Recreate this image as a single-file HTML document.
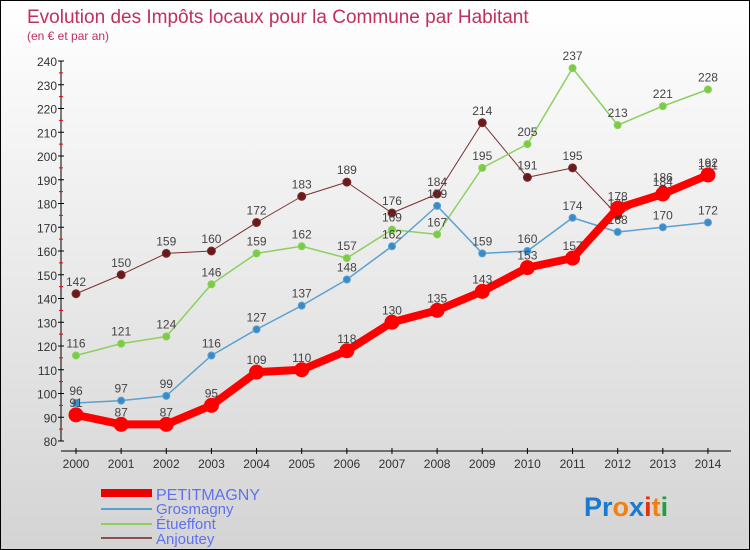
<!DOCTYPE html>
<html><head><meta charset="utf-8"><style>
body{margin:0}
#c{position:relative;width:748px;height:548px;border:1px solid #000;background:linear-gradient(#fff,#d4d4d4);overflow:hidden;font-family:"Liberation Sans",sans-serif}
</style></head><body>
<div id="c">
<svg id="s" width="748" height="548">
<text x="26" y="22" font-size="19" fill="#c0305a">Evolution des Impôts locaux pour la Commune par Habitant</text>
<text x="26" y="39" font-size="12" fill="#c0305a">(en € et par an)</text>
<g id="axes"></g><g id="series"></g>
<g>
<line x1="100" y1="492" x2="151" y2="492" stroke="#e00" stroke-width="8"/>
<text x="155" y="499" font-size="16" fill="#6070f0">PETITMAGNY</text>
<line x1="100" y1="508" x2="151" y2="508" stroke="#5aa0d0" stroke-width="2"/>
<text x="155" y="513" font-size="15" fill="#6070f0">Grosmagny</text>
<line x1="100" y1="523" x2="151" y2="523" stroke="#8cd060" stroke-width="2"/>
<text x="155" y="528" font-size="15" fill="#6070f0">Étueffont</text>
<line x1="100" y1="537" x2="151" y2="537" stroke="#8a5050" stroke-width="2"/>
<text x="155" y="543" font-size="15" fill="#6070f0">Anjoutey</text>
</g>
<text x="583" y="515" font-size="27" font-weight="bold"><tspan fill="#1a7ad0">Pr</tspan><tspan fill="#f08010">o</tspan><tspan fill="#1a7ad0">x</tspan><tspan fill="#e03010">i</tspan><tspan fill="#f08010">t</tspan><tspan fill="#20a040">i</tspan></text>
</svg></div>
<script>
const years=[2000,2001,2002,2003,2004,2005,2006,2007,2008,2009,2010,2011,2012,2013,2014];
const yTicks=[80,90,100,110,120,130,140,150,160,170,180,190,200,210,220,230,240];
const petitmagny=[91,87,87,95,109,110,118,130,135,143,153,157,178,184,192];
const grosmagny=[96,97,99,116,127,137,148,162,179,159,160,174,168,170,172];
const etueffont=[116,121,124,146,159,162,157,169,167,195,205,237,213,221,228];
const anjoutey=[142,150,159,160,172,183,189,176,184,214,191,195,175,186,191];
const NS="http://www.w3.org/2000/svg";
const X=i=>75+i*45.14, Y=v=>440-(v-80)*2.375;
function mk(t,a,p){const e=document.createElementNS(NS,t);for(const k in a)e.setAttribute(k,a[k]);p.appendChild(e);return e;}
const ax=document.getElementById('axes'), sg=document.getElementById('series');
let e=mk('line',{x1:60,y1:Y(240),x2:60,y2:440,stroke:'#000'},ax);


e=mk('line',{x1:60,y1:450,x2:730,y2:450,stroke:'#000'},ax);


yTicks.forEach((v,i)=>{
 mk('line',{x1:57,y1:Y(v),x2:63,y2:Y(v),stroke:'#000'},ax);
 if(i<yTicks.length-1)mk('line',{x1:58,y1:Y(v+5),x2:62,y2:Y(v+5),stroke:'#e00'},ax);
 const t=mk('text',{x:56,y:Y(v)+5,'font-size':12,fill:'#333','text-anchor':'end'},ax);t.textContent=v;
 
 
});
years.forEach((y,i)=>{
 mk('line',{x1:X(i),y1:447,x2:X(i),y2:453,stroke:'#000'},ax);
 const t=mk('text',{x:X(i),y:467,'font-size':12,fill:'#333','text-anchor':'middle'},ax);t.textContent=y;
 
 
});
function draw(d,name,col,dot,w,r){
 const p=mk('polyline',{points:d.map((v,i)=>X(i)+','+Y(v)).join(' '),fill:'none',stroke:col,'stroke-width':w,'stroke-linejoin':'round'},sg);
 
 
 d.forEach((v,i)=>{
  const c=mk('circle',{cx:X(i),cy:Y(v),r:r,fill:dot,stroke:col,'stroke-width':1},sg);
  
  
  const t=mk('text',{x:X(i),y:Y(v)-8,'font-size':12,fill:'#444','text-anchor':'middle'},sg);t.textContent=v;
  
  
 });
}
draw(anjoutey,'anjoutey','#7a3030','#6a1a1a',1,4);
draw(etueffont,'etueffont','#8cd060','#7acc40',1.5,3.5);
draw(grosmagny,'grosmagny','#5aa0d0','#3a8ac8',1.5,3.5);
draw(petitmagny,'petitmagny','#f00','#f00',8,7);
</script>
</body></html>
